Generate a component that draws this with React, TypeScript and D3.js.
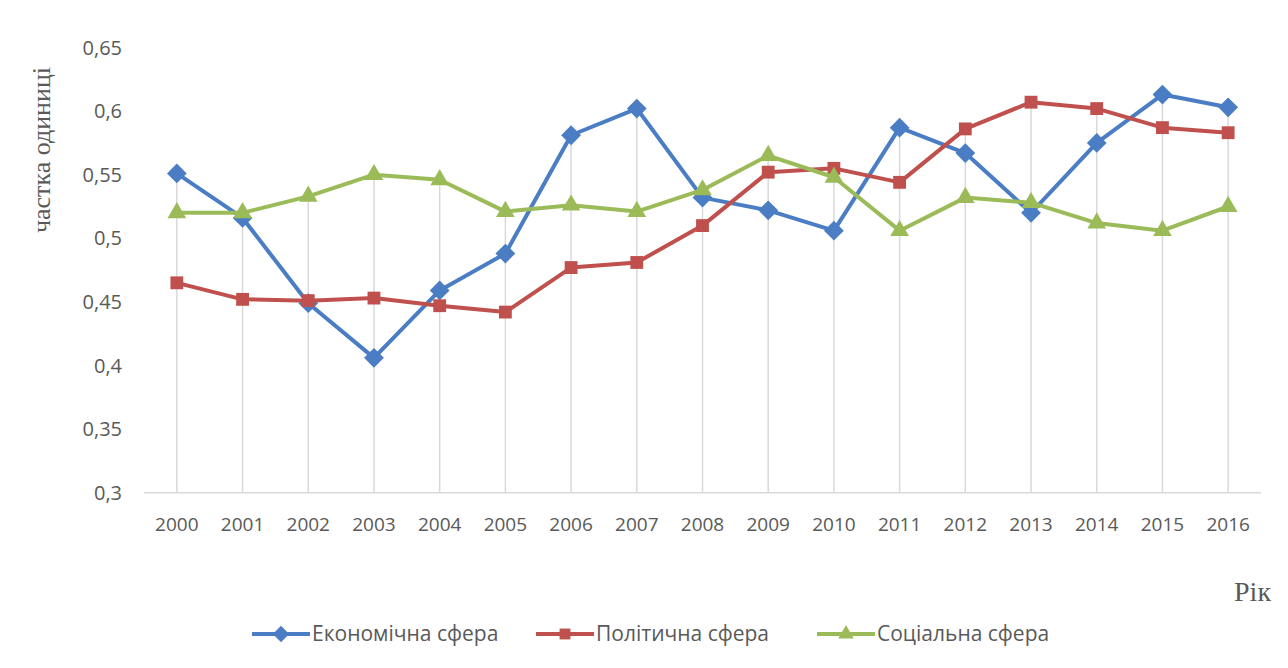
import React, { useRef, useEffect } from 'react';
import * as d3 from 'd3';

const years = ['2000', '2001', '2002', '2003', '2004', '2005', '2006', '2007', '2008',
    '2009', '2010', '2011', '2012', '2013', '2014', '2015', '2016'];

const economic = [0.551, 0.516, 0.449, 0.406, 0.459, 0.488, 0.581, 0.602, 0.532,
    0.522, 0.506, 0.587, 0.567, 0.520, 0.575, 0.613, 0.603];
const political = [0.465, 0.452, 0.451, 0.453, 0.447, 0.442, 0.477, 0.481, 0.510,
    0.552, 0.555, 0.544, 0.586, 0.607, 0.602, 0.587, 0.583];
const social = [0.520, 0.520, 0.533, 0.550, 0.546, 0.521, 0.526, 0.521, 0.538,
    0.565, 0.548, 0.506, 0.532, 0.528, 0.512, 0.506, 0.525];

const yTicks = [0.3, 0.35, 0.4, 0.45, 0.5, 0.55, 0.6, 0.65];

const seriesNames = ['Економічна сфера', 'Політична сфера', 'Соціальна сфера'];
const seriesColors = ['#4a7dc4', '#c0504d', '#9bbb59'];
const seriesSymbols = [d3.symbolDiamond2, d3.symbolSquare2, d3.symbolTriangle2];

const labelFont = '"Open Sans", "Liberation Sans", sans-serif';
const titleFont = '"Liberation Serif", "DejaVu Serif", serif';

const App = () => {
    const svgRef = useRef(null);

    useEffect(() => {
        const svg = d3.select(svgRef.current);
        svg.selectAll('*').remove();

        const series = [economic, political, social];

        const x = d3.scalePoint()
            .domain(years)
            .range([144, 1261])
            .padding(0.5);

        const y = d3.scaleLinear()
            .domain([0.3, 0.65])
            .range([492.7, 47.5]);

        const fmt = (v) => d3.format('~g')(v).replace('.', ',');

        // drop lines from the highest point of each year to the axis
        svg.append('g')
            .selectAll('line')
            .data(years)
            .join('line')
            .attr('x1', d => x(d))
            .attr('x2', d => x(d))
            .attr('y1', (d, i) => y(Math.max(economic[i], political[i], social[i])))
            .attr('y2', y(0.3))
            .attr('stroke', '#d9d9d9')
            .attr('stroke-width', 1.5);

        // x axis line
        svg.append('line')
            .attr('x1', 144)
            .attr('x2', 1261)
            .attr('y1', y(0.3))
            .attr('y2', y(0.3))
            .attr('stroke', '#d9d9d9')
            .attr('stroke-width', 1.5);

        // y tick labels
        svg.append('g')
            .selectAll('text')
            .data(yTicks)
            .join('text')
            .attr('x', 122)
            .attr('y', d => y(d))
            .attr('dy', '0.35em')
            .attr('text-anchor', 'end')
            .attr('font-family', labelFont)
            .attr('font-size', '20px')
            .attr('fill', '#595959')
            .text(d => fmt(d));

        // x tick labels
        svg.append('g')
            .selectAll('text')
            .data(years)
            .join('text')
            .attr('x', d => x(d))
            .attr('y', 531)
            .attr('text-anchor', 'middle')
            .attr('font-family', labelFont)
            .attr('font-size', '19px')
            .attr('fill', '#595959')
            .text(d => d);

        const line = d3.line()
            .x((d, i) => x(years[i]))
            .y(d => y(d));

        series.forEach((values, s) => {
            svg.append('path')
                .datum(values)
                .attr('d', line)
                .attr('fill', 'none')
                .attr('stroke', seriesColors[s])
                .attr('stroke-width', 4)
                .attr('stroke-linejoin', 'round');

            svg.append('g')
                .selectAll('path')
                .data(values)
                .join('path')
                .attr('transform', (d, i) => `translate(${x(years[i])},${y(d)})`)
                .attr('d', d3.symbol().type(seriesSymbols[s]).size(s === 1 ? 210 : 250))
                .attr('fill', seriesColors[s]);
        });

        // axis titles
        svg.append('text')
            .attr('transform', 'translate(50,150) rotate(-90)')
            .attr('text-anchor', 'middle')
            .attr('font-family', titleFont)
            .attr('font-size', '26px')
            .attr('fill', '#595959')
            .text('частка одиниці');

        svg.append('text')
            .attr('x', 1271)
            .attr('y', 601)
            .attr('text-anchor', 'end')
            .attr('font-family', titleFont)
            .attr('font-size', '28px')
            .attr('fill', '#595959')
            .text('Рік');

        // legend
        const legendX = [252, 536, 817];
        const legend = svg.append('g');
        seriesNames.forEach((name, s) => {
            const g = legend.append('g').attr('transform', `translate(${legendX[s]},634)`);
            g.append('line')
                .attr('x1', 0)
                .attr('x2', 58)
                .attr('stroke', seriesColors[s])
                .attr('stroke-width', 4);
            g.append('path')
                .attr('transform', 'translate(29,0)')
                .attr('d', d3.symbol().type(seriesSymbols[s]).size(s === 1 ? 150 : 170))
                .attr('fill', seriesColors[s]);
            g.append('text')
                .attr('x', 60)
                .attr('dy', '0.35em')
                .attr('font-family', labelFont)
                .attr('font-size', '21px')
                .attr('fill', '#595959')
                .text(name);
        });
    }, []);

    return (
        <svg ref={svgRef} width={1288} height={668}
            style={{ position: 'absolute', left: 0, top: 0, background: '#fff' }} />
    );
};

export default App;
